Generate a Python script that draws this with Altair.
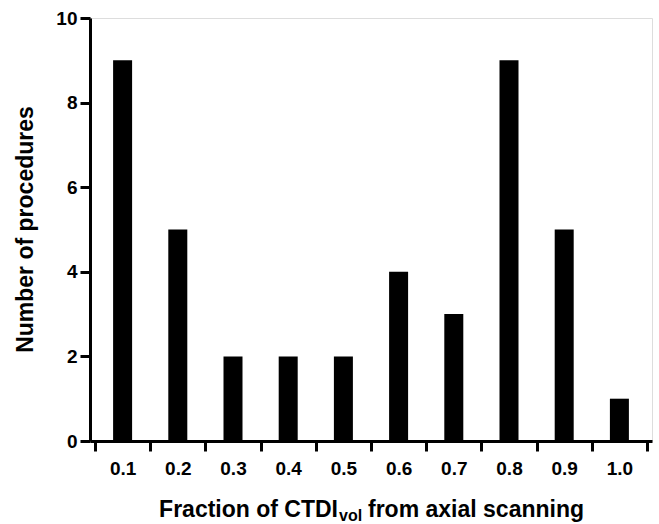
import altair as alt
import pandas as pd

# Data
fractions = [0.1, 0.2, 0.3, 0.4, 0.5, 0.6, 0.7, 0.8, 0.9, 1.0]
counts = [9, 5, 2, 2, 2, 4, 3, 9, 5, 1]
y_ticks = [0, 2, 4, 6, 8, 10]
bin_edges = [0.05, 0.15, 0.25, 0.35, 0.45, 0.55, 0.65, 0.75, 0.85, 0.95, 1.05]

df = pd.DataFrame({"fraction": fractions, "count": counts})

FONT = "Liberation Sans"
W, H = 562, 423

x_axis = alt.Axis(
    values=bin_edges + fractions,
    labelExpr="round(datum.value*20) % 2 == 0 ? format(datum.value, '.1f') : ''",
    tickOpacity={"condition": {"test": "round(datum.value*20) % 2 == 1", "value": 1}, "value": 0},
    title=None,
    grid=False,
    domainColor="black",
    domainWidth=3,
    tickColor="black",
    tickWidth=3,
    tickSize=10,
    labelFont=FONT,
    labelFontSize=19,
    labelFontWeight="bold",
    labelColor="black",
    labelPadding=8,
    labelFlush=False,
    labelOverlap=False,
)

y_axis = alt.Axis(
    values=y_ticks,
    title=None,
    grid=False,
    domainColor="black",
    domainWidth=3,
    tickColor="black",
    tickWidth=3,
    tickSize=10,
    labelFont=FONT,
    labelFontSize=19,
    labelFontWeight="bold",
    labelColor="black",
    labelPadding=3,
)

bars = alt.Chart(df).mark_bar(color="black", size=19).encode(
    x=alt.X("fraction:Q", scale=alt.Scale(domain=[0.05, 1.05], nice=False, zero=False), axis=x_axis),
    y=alt.Y("count:Q", scale=alt.Scale(domain=[0, 10], nice=False), axis=y_axis),
)

one = pd.DataFrame({"k": [0]})

def txt(s, x, y, size, align="left"):
    return alt.Chart(one).mark_text(
        text=s, font=FONT, fontSize=size, fontWeight="bold", color="black",
        align=align, baseline="alphabetic",
    ).encode(x=alt.value(x), y=alt.value(y))

t1 = txt("Fraction of CTDI", 248, 499, 23, align="right")
t2 = txt("vol", 249, 503, 16)
t3 = txt("from axial scanning", 278, 499, 23)
ytitle = alt.Chart(one).mark_text(
    text="Number of procedures", font=FONT, fontSize=23, fontWeight="bold", color="black",
    align="center", baseline="middle", angle=270,
).encode(x=alt.value(-64), y=alt.value(H / 2))

chart = alt.layer(bars, t1, t2, t3, ytitle).properties(
    width=W, height=H,
    autosize=alt.AutoSizeParams(type="none"),
    padding={"left": 90, "top": 18, "right": 7, "bottom": 83},
).configure_view(stroke=None).configure(background="white")

chart.save("out.html", embed_options={"renderer": "svg", "actions": False})
